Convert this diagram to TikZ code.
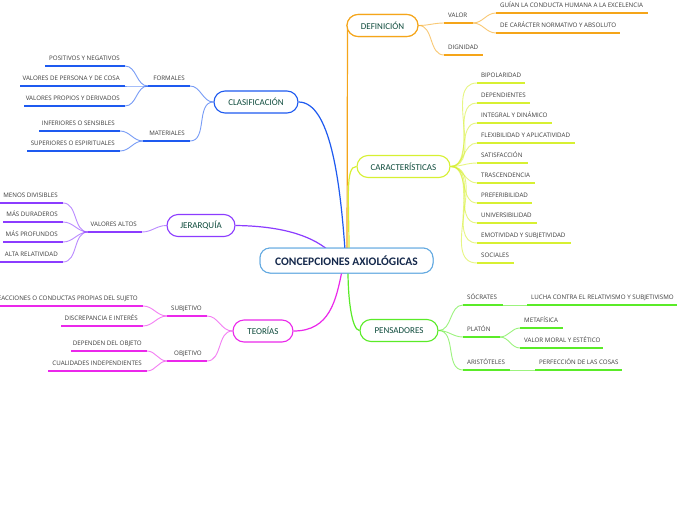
\documentclass[tikz,border=0pt]{standalone}
\usepackage{fontspec}
\setmainfont{Carlito}
\newfontfamily\leaffont{Open Sans}
\definecolor{cblue}{RGB}{30,90,240}
\definecolor{cpurple}{RGB}{140,60,255}
\definecolor{cmag}{RGB}{235,40,235}
\definecolor{corange}{RGB}{245,165,25}
\definecolor{cyel}{RGB}{215,240,50}
\definecolor{cgreen}{RGB}{90,235,40}
\definecolor{rootline}{RGB}{100,170,225}
\definecolor{roottext}{RGB}{20,40,75}
\definecolor{maintext}{RGB}{14,75,60}
\definecolor{leaftext}{RGB}{60,60,60}
\newcommand\leafR[6]{%
  \coordinate (#1-l) at (#2,#4); \coordinate (#1-r) at (#3,#4);
  \draw[ul,#5] (#1-l) -- (#1-r);
  \node[leaftxt,anchor=base west] (#1) at ({#2+4},{#4-6}) {#6};}
\newcommand\leafL[6]{%
  \coordinate (#1-l) at (#2,#4); \coordinate (#1-r) at (#3,#4);
  \draw[ul,#5] (#1-l) -- (#1-r);
  \node[leaftxt,anchor=base east] (#1) at ({#3-5},{#4-6}) {#6};}
\begin{document}
\begin{tikzpicture}[x=1pt,y=-1pt,
  ul/.style={line width=1.4pt},
  cn/.style={line width=0.9pt,draw opacity=0.6},
  bcn/.style={line width=1.2pt},
  leaftxt/.style={inner sep=0pt,text=leaftext,font=\leaffont\fontsize{6.2}{7}\selectfont},
  mainbox/.style={draw,line width=1.1pt,fill=white,rounded corners=11pt,minimum height=22pt,inner sep=0pt,text=maintext,font=\fontsize{9}{10}\selectfont},
  rootbox/.style={draw=rootline,line width=1pt,fill=white,rounded corners=10pt,minimum width=173pt,minimum height=25pt,inner sep=0pt,text=roottext,font=\bfseries\fontsize{11.5}{13}\selectfont}]
\useasboundingbox (0,0) rectangle (696,520);
\fill[white] (0,0) rectangle (696,520);

\node[rootbox] (root) at (346.5,260.5) {CONCEPCIONES AXIOLÓGICAS};
\coordinate (rt1) at (345,250);
\coordinate (rt2) at (347,250);
\coordinate (rt3) at (349,250);
\coordinate (rt4) at (328,250);
\coordinate (rb1) at (342,271);
\coordinate (rb2) at (348,271);
\coordinate (dstart) at (347.5,28);

\node[mainbox,draw=corange,minimum width=71pt] (defi) at (382.5,25.5) {DEFINICIÓN};
\node[mainbox,draw=cyel,minimum width=93pt] (cara) at (403.5,166.5) {CARACTERÍSTICAS};
\node[mainbox,draw=cgreen,minimum width=78pt] (pens) at (399,330.5) {PENSADORES};
\node[mainbox,draw=cblue,minimum width=84pt] (clas) at (256,102) {CLASIFICACIÓN};
\node[mainbox,draw=cpurple,minimum width=68pt] (jera) at (201,225.5) {JERARQUÍA};
\node[mainbox,draw=cmag,minimum width=60pt] (teor) at (263,331) {TEORÍAS};

\draw[bcn,corange] (dstart) -- (rt2);
\draw[bcn,cblue] (clas.east) .. controls (330,102) and (340,180) .. (rt1);
\draw[bcn,cpurple] (jera.east) .. controls (280,226) and (310,235) .. (rt4);
\draw[bcn,cyel] (cara.west) .. controls (345,166) and (349,200) .. (rt3);
\draw[bcn,cgreen] (pens.west) .. controls (352,330) and (348,300) .. (rb2);
\draw[bcn,cmag] (teor.east) .. controls (330,331) and (336,300) .. (rb1);
\node[rootbox] at (root) {CONCEPCIONES AXIOLÓGICAS};
\node[mainbox,draw=corange,minimum width=71pt] at (defi) {DEFINICIÓN};

% DEFINICION
\leafR{valor}{444}{473}{23}{corange}{VALOR}
\leafR{dign}{444}{483}{55}{corange}{DIGNIDAD}
\leafR{guian}{496}{648}{13}{corange}{GUÍAN LA CONDUCTA HUMANA A LA EXCELENCIA}
\leafR{norm}{496}{620}{33}{corange}{DE CARÁCTER NORMATIVO Y ABSOLUTO}
\draw[cn,corange] (defi.east) to[out=0,in=180] (valor-l);
\draw[cn,corange] (defi.east) to[out=0,in=180] (dign-l);
\draw[cn,corange] (valor-r) to[out=0,in=180] (guian-l);
\draw[cn,corange] (valor-r) to[out=0,in=180] (norm-l);

% CARACTERISTICAS
\leafR{c1}{477}{525}{83}{cyel}{BIPOLARIDAD}
\leafR{c2}{477}{530}{103}{cyel}{DEPENDIENTES}
\leafR{c3}{477}{552}{123}{cyel}{INTEGRAL Y DINÁMICO}
\leafR{c4}{477}{575}{143}{cyel}{FLEXIBILIDAD Y APLICATIVIDAD}
\leafR{c5}{477}{528}{163}{cyel}{SATISFACCIÓN}
\leafR{c6}{477}{535}{183}{cyel}{TRASCENDENCIA}
\leafR{c7}{477}{532}{203}{cyel}{PREFERIBILIDAD}
\leafR{c8}{477}{537}{223}{cyel}{UNIVERSIBILIDAD}
\leafR{c9}{477}{571}{243}{cyel}{EMOTIVIDAD Y SUBJETIVIDAD}
\leafR{c10}{477}{514}{263}{cyel}{SOCIALES}
\foreach \i in {1,...,10}{\draw[cn,cyel] (cara.east) to[out=0,in=180] (c\i-l);}

% PENSADORES
\leafR{socr}{463}{503}{305}{cgreen}{SÓCRATES}
\leafR{lucha}{527}{677}{305}{cgreen}{LUCHA CONTRA EL RELATIVISMO Y SUBJETIVISMO}
\leafR{plat}{463}{500}{337}{cgreen}{PLATÓN}
\leafR{meta}{520}{563}{328}{cgreen}{METAFÍSICA}
\leafR{vmor}{520}{603}{348}{cgreen}{VALOR MORAL Y ESTÉTICO}
\leafR{arist}{463}{510}{370}{cgreen}{ARISTÓTELES}
\leafR{perf}{535}{622}{370}{cgreen}{PERFECCIÓN DE LAS COSAS}
\draw[cn,cgreen] (pens.east) to[out=0,in=180] (socr-l);
\draw[cn,cgreen] (pens.east) to[out=0,in=180] (plat-l);
\draw[cn,cgreen] (pens.east) to[out=0,in=180] (arist-l);
\draw[cn,cgreen] (socr-r) -- (lucha-l);
\draw[cn,cgreen] (plat-r) to[out=0,in=180] (meta-l);
\draw[cn,cgreen] (plat-r) to[out=0,in=180] (vmor-l);
\draw[cn,cgreen] (arist-r) -- (perf-l);

% CLASIFICACION
\leafL{form}{148}{190}{86}{cblue}{FORMALES}
\leafL{mat}{143}{190}{141}{cblue}{MATERIALES}
\leafL{pos}{45}{125}{66}{cblue}{POSITIVOS Y NEGATIVOS}
\leafL{vpc}{20}{125}{86}{cblue}{VALORES DE PERSONA Y DE COSA}
\leafL{vpd}{24}{125}{106}{cblue}{VALORES PROPIOS Y DERIVADOS}
\leafL{inf}{39}{120}{131}{cblue}{INFERIORES O SENSIBLES}
\leafL{sup}{27}{120}{151}{cblue}{SUPERIORES O ESPIRITUALES}
\draw[cn,cblue] (clas.west) to[out=180,in=0] (form-r);
\draw[cn,cblue] (clas.west) to[out=180,in=0] (mat-r);
\draw[cn,cblue] (form-l) to[out=180,in=0] (pos-r);
\draw[cn,cblue] (form-l) to[out=180,in=0] (vpc-r);
\draw[cn,cblue] (form-l) to[out=180,in=0] (vpd-r);
\draw[cn,cblue] (mat-l) to[out=180,in=0] (inf-r);
\draw[cn,cblue] (mat-l) to[out=180,in=0] (sup-r);

% JERARQUIA
\leafL{valt}{88}{142}{232}{cpurple}{VALORES ALTOS}
\leafL{menos}{0}{63}{203}{cpurple}{MENOS DIVISIBLES}
\leafL{dur}{3}{63}{222}{cpurple}{MÁS DURADEROS}
\leafL{prof}{3}{63}{242}{cpurple}{MÁS PROFUNDOS}
\leafL{alta}{0}{63}{262}{cpurple}{ALTA RELATIVIDAD}
\draw[cn,cpurple] (jera.west) to[out=180,in=0] (valt-r);
\foreach \n in {menos,dur,prof,alta}{\draw[cn,cpurple] (valt-l) to[out=180,in=0] (\n-r);}

% TEORIAS
\leafL{subj}{167}{207}{316}{cmag}{SUBJETIVO}
\leafL{obj}{167}{207}{361}{cmag}{OBJETIVO}
\leafL{reac}{0}{143}{306}{cmag}{REACCIONES O CONDUCTAS PROPIAS DEL SUJETO}
\leafL{disc}{61}{143}{326}{cmag}{DISCREPANCIA E INTERÉS}
\leafL{dep}{71}{147}{351}{cmag}{DEPENDEN DEL OBJETO}
\leafL{cual}{48}{147}{371}{cmag}{CUALIDADES INDEPENDIENTES}
\draw[cn,cmag] (teor.west) to[out=180,in=0] (subj-r);
\draw[cn,cmag] (teor.west) to[out=180,in=0] (obj-r);
\draw[cn,cmag] (subj-l) to[out=180,in=0] (reac-r);
\draw[cn,cmag] (subj-l) to[out=180,in=0] (disc-r);
\draw[cn,cmag] (obj-l) to[out=180,in=0] (dep-r);
\draw[cn,cmag] (obj-l) to[out=180,in=0] (cual-r);
\end{tikzpicture}
\end{document}
